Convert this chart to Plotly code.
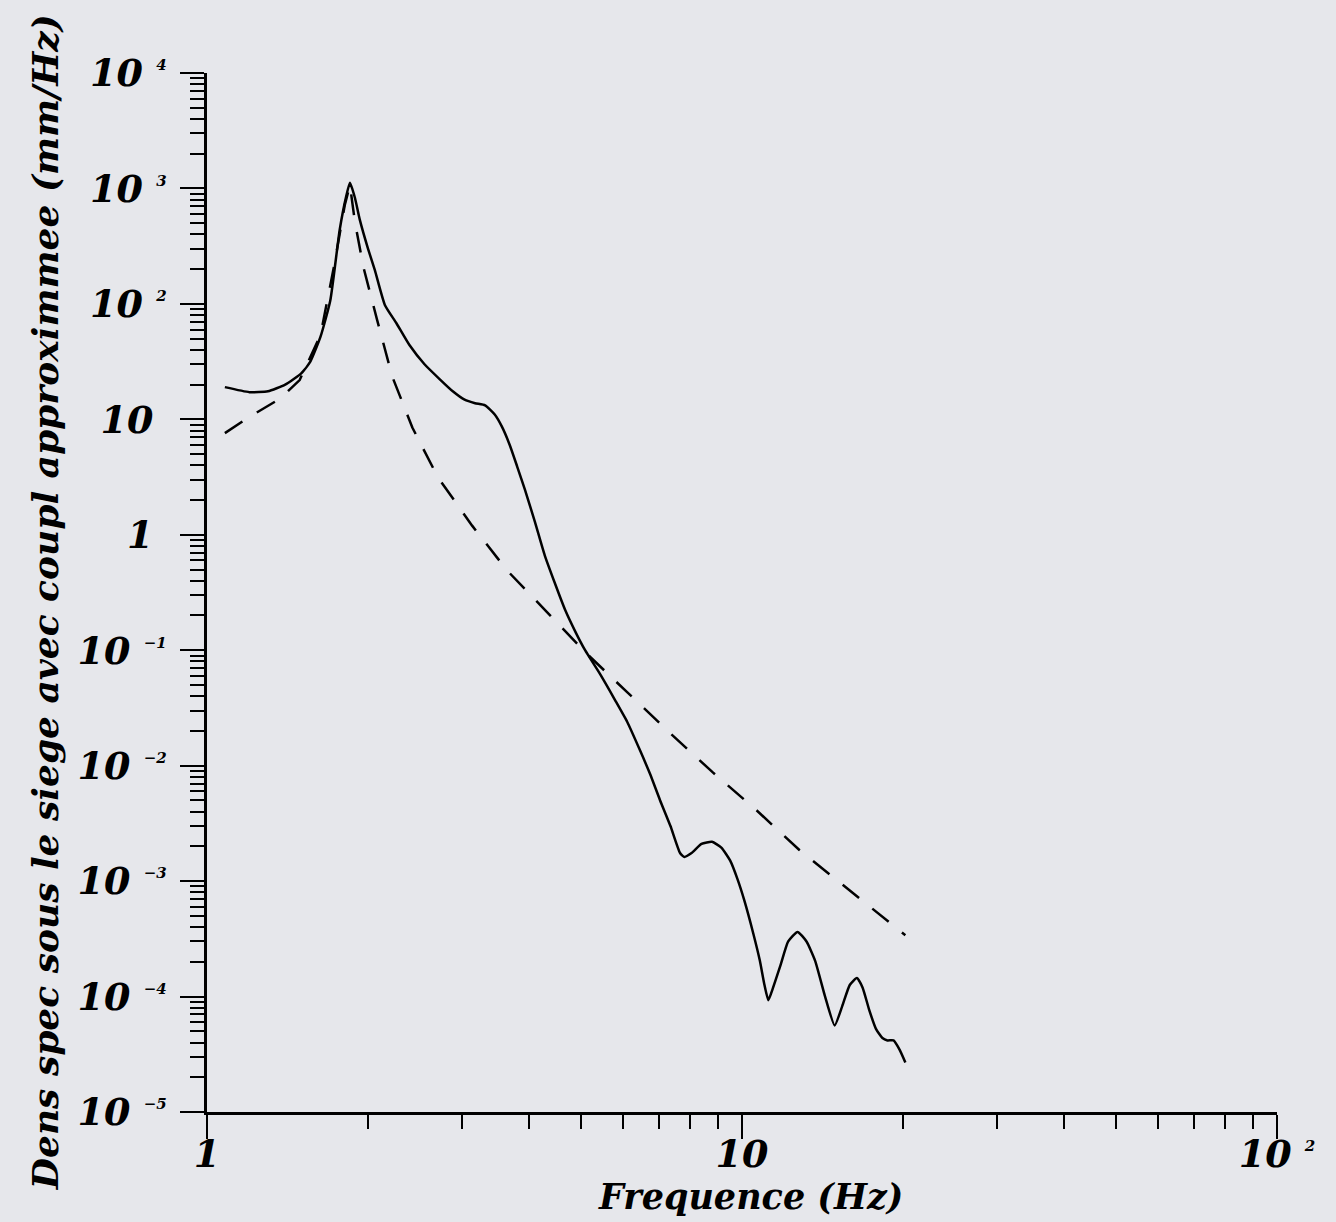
import plotly.graph_objects as go

# Solid curve: spectral density (mm/Hz) vs frequency (Hz)
freq_solid = [1.08, 1.20, 1.30, 1.40, 1.50, 1.56, 1.63, 1.70, 1.77, 1.82, 1.85, 1.89, 1.93, 2.00, 2.06,
              2.15, 2.26, 2.39, 2.55, 2.73, 2.88, 3.03, 3.17, 3.31, 3.45, 3.56, 3.68, 3.80, 3.93,
              4.10, 4.28, 4.47, 4.67, 4.88, 5.09, 5.43, 5.79, 6.10, 6.45, 6.73, 7.03, 7.35, 7.66,
              7.80, 8.05, 8.40, 8.79, 9.15, 9.50, 9.80, 10.1, 10.5, 10.8, 11.0, 11.2, 11.4, 11.8,
              12.2, 12.7, 13.2, 13.7, 14.3, 14.9, 15.4, 15.9, 16.4, 16.8, 17.3, 17.8, 18.3, 18.7,
              19.2, 19.7, 20.2]
dens_solid = [19.0, 17.2, 17.5, 20.0, 25.0, 31.6, 52.0, 107.0, 437.0, 850.0, 1120.0, 830.0, 537.0, 300.0, 195.0,
              98.0, 68.0, 44.0, 30.0, 22.0, 17.5, 14.8, 13.8, 13.2, 11.0, 8.6, 6.0, 3.9, 2.45,
              1.3, 0.66, 0.38, 0.224, 0.145, 0.100, 0.062, 0.037, 0.024, 0.0135, 0.0085, 0.0050, 0.0030, 0.00175,
              0.00162, 0.00175, 0.0021, 0.00219, 0.00195, 0.00151, 0.00105, 0.00068, 0.00035, 0.000204, 0.00013, 0.000093, 0.000115, 0.000186,
              0.000300, 0.000363, 0.000300, 0.000204, 0.000100, 0.0000562, 0.000083, 0.000126, 0.000145, 0.000120, 0.0000759, 0.0000525, 0.0000437, 0.0000417,
              0.0000417, 0.0000347, 0.0000269]

# Dashed curve: approximation
freq_dash = [1.08, 1.20, 1.37, 1.49, 1.63, 1.73, 1.81, 1.85, 1.89, 1.96, 2.08, 2.22, 2.42, 2.70, 3.13,
             3.64, 4.32, 5.13, 6.12, 7.34, 8.83, 10.67, 12.8, 15.6, 20.2]
dens_dash = [7.6, 10.5, 15.1, 21.9, 53.7, 219.0, 724.0, 1070.0, 513.0, 209.0, 72.4, 23.4, 8.5, 3.16, 1.20,
             0.49, 0.214, 0.093, 0.0427, 0.0191, 0.0087, 0.00407, 0.00186, 0.00089, 0.00034]

y_tickvals = [1e-5, 1e-4, 1e-3, 1e-2, 1e-1, 1, 10, 1e2, 1e3, 1e4]
y_exponents = [-5, -4, -3, -2, -1, 0, 1, 2, 3, 4]
x_tickvals = [1, 10, 100]
x_exponents = [0, 1, 2]

SUP = "<sup><span style='font-size:15px'>{}</span></sup>"


def lab(e, pad=True):
    if e == 0:
        return "1" + ("&nbsp;" if pad else "")
    if e == 1:
        return "10" + ("&nbsp;" if pad else "")
    s = str(e).replace("-", "\u2212")
    return "10&nbsp;" + SUP.format(s)


y_ticktext = [lab(e) for e in y_exponents]
x_ticktext = [lab(e, pad=False) for e in x_exponents]
y_minor = [d * 10.0 ** k for k in range(-5, 4) for d in range(2, 10)]
x_minor = [d * 10.0 ** k for k in range(0, 2) for d in range(2, 10)]

FONT = "DejaVu Serif"
BG = "#e6e7eb"

fig = go.Figure()
fig.add_trace(go.Scatter(x=freq_dash, y=dens_dash, mode="lines",
                         line=dict(color="black", width=2.5, dash="21px,17px"),
                         showlegend=False))
fig.add_trace(go.Scatter(x=freq_solid, y=dens_solid, mode="lines",
                         line=dict(color="black", width=2.5, shape="spline", smoothing=0.5),
                         showlegend=False))

fig.update_layout(
    width=1336, height=1222,
    paper_bgcolor=BG, plot_bgcolor=BG,
    margin=dict(l=207, r=59, t=73, b=110),
    font=dict(family=FONT, color="black", weight="bold", style="italic"),
    xaxis=dict(type="log", range=[0, 2], showgrid=False, zeroline=False,
               showline=True, linecolor="black", linewidth=2.5,
               tickmode="array", tickvals=x_tickvals, ticktext=x_ticktext,
               ticks="outside", ticklen=24, tickwidth=2, tickcolor="black",
               ticklabelstandoff=-17,
               tickfont=dict(size=38, family=FONT, weight="bold", style="italic"),
               minor=dict(tickmode="array", tickvals=x_minor, ticks="outside",
                          ticklen=14, tickwidth=2, tickcolor="black", showgrid=False)),
    yaxis=dict(type="log", range=[-5, 4], showgrid=False, zeroline=False,
               showline=True, linecolor="black", linewidth=2.5,
               tickmode="array", tickvals=y_tickvals, ticktext=y_ticktext,
               ticks="outside", ticklen=24, tickwidth=2, tickcolor="black",
               ticklabelstandoff=6,
               tickfont=dict(size=38, family=FONT, weight="bold", style="italic"),
               minor=dict(tickmode="array", tickvals=y_minor, ticks="outside",
                          ticklen=14, tickwidth=2, tickcolor="black", showgrid=False)),
    annotations=[
        dict(text="Frequence (Hz)", xref="paper", yref="paper", x=0.5075, y=-0.081,
             xanchor="center", yanchor="middle", showarrow=False,
             font=dict(size=35, family=FONT, weight="bold", style="italic")),
        dict(text="Dens spec sous le siege avec coupl approximmee (mm/Hz)",
             xref="paper", yref="paper", x=-0.152, y=0.491, textangle=-90,
             xanchor="center", yanchor="middle", showarrow=False,
             font=dict(size=36, family=FONT, weight="bold", style="italic")),
    ],
)

fig.write_html("out.html", config={"displayModeBar": False},
               post_script="document.body.style.margin='0';")
